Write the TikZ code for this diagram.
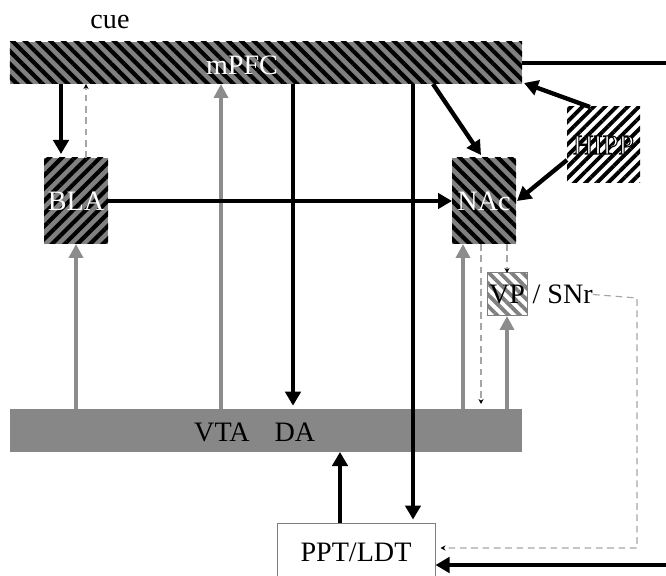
\documentclass[tikz,border=0pt]{standalone}
\usepackage{fontspec}
\setmainfont{Liberation Serif}
\usetikzlibrary{arrows.meta,patterns.meta}
\definecolor{stripegray}{gray}{0.5}
\definecolor{bargray}{gray}{0.53}
\definecolor{arrowgray}{gray}{0.55}
\definecolor{dashgray}{gray}{0.65}
\begin{document}
\begin{tikzpicture}[
			x=0.3mm, y=-0.3mm,
			font=\fontsize{24}{27}\selectfont,
			region/.style={inner sep=0pt, outer sep=0pt, text=white},
			darkhatch/.style={region, preaction={fill=stripegray}, pattern={Lines[angle=#1,distance=2.7mm,line width=1.25mm]}, pattern color=black},
			lighthatch/.style 2 args={region, preaction={fill=white}, pattern={Lines[angle=#1,distance=2.4mm,line width=1.15mm]}, pattern color=#2},
			bigarrow/.style={draw=black, line width=1.3mm, -{Triangle[length=4.2mm,width=4.6mm]}},
			grayarrow/.style={draw=arrowgray, line width=1.3mm, -{Triangle[length=4.2mm,width=4.2mm]}},
			thinarrow/.style={draw=dashgray, line width=0.35mm, dash pattern=on 2mm off 1.4mm, -{Stealth[length=1.5mm,width=1.5mm,black]}},
			thickline/.style={draw=black, line width=1.3mm}
			]
			
			\clip (0,0) rectangle (666,576);
			
			\node (cue) at (110,22) {cue};
			
			\node[darkhatch=-45, minimum width=153.6mm, minimum height=12.6mm] (mpfc) at (266,63) {};
			\node[text=white] (mpfclbl) at (242,65) {mPFC};
			
			\node[darkhatch=45, minimum width=19.2mm, minimum height=25.8mm] (bla) at (76,201) {BLA};
			\node[darkhatch=-45, minimum width=19.2mm, minimum height=25.8mm] (nac) at (484,201) {NAc};
			\node[lighthatch={45}{black}, minimum width=21.9mm, minimum height=22.8mm, text=white] (hipp) at (603.5,145) {\special{pdf:code 2 Tr 0.9 w 0 G}HIPP\special{pdf:code 0 Tr}};
			\node[lighthatch={-45}{stripegray}, draw=stripegray, line width=0.3mm, minimum width=12mm, minimum height=12.9mm, text=black] (vp) at (507,294.5) {VP};
			\node[anchor=west, inner sep=0pt, xshift=1.6mm] (snr) at (vp.east) {/ SNr};
			
			\node[region, fill=bargray, minimum width=153.6mm, minimum height=12.9mm] (vta) at (266,430.5) {};
			\node (vtalbl) at (222,432) {VTA};
			\node (dalbl) at (295,432) {DA};
			
			\node[draw=stripegray, line width=0.3mm, fill=white, minimum width=47.4mm, minimum height=17.4mm, inner sep=0pt] (ppt) at (356,552) {PPT/LDT};
			
			\coordinate (loopin) at (680,63);
			\coordinate (loopout) at (680,565);
			\coordinate (snrturn) at (637,298);
			
			\draw[bigarrow] (61,0 |- mpfc.south) -- ([yshift=1.2mm]61,0 |- bla.north);
			\draw[thinarrow] (86,0 |- bla.north) -- (86,0 |- mpfc.south);
			\draw[grayarrow] (221,0 |- vta.north) -- (221,0 |- mpfc.south);
			\draw[bigarrow] (293,0 |- mpfc.south) -- ([yshift=1mm]293,0 |- vta.north);
			\draw[bigarrow] (413,0 |- mpfc.south) -- ([yshift=0.9mm]413,0 |- ppt.north);
			\draw[bigarrow] (433,0 |- mpfc.south) -- ([yshift=0.9mm]481,0 |- nac.north);
			\draw[bigarrow] (590,0 |- hipp.north) -- ([shift={(0.6mm,0.3mm)}]mpfc.south east);
			\draw[bigarrow] (hipp.west |- 0,160) -- ([xshift=0.3mm]nac.east);
			\draw[bigarrow] (bla.east) -- (nac.west);
			
			\draw[grayarrow] (bla.south |- vta.north) -- (bla.south);
			\draw[grayarrow] (463,0 |- vta.north) -- (463,0 |- nac.south);
			\draw[grayarrow] (vp.south |- vta.north) -- (vp.south);
			\draw[thinarrow] (481,0 |- nac.south) -- ([yshift=1.5mm]481,0 |- vta.north);
			\draw[thinarrow] (507,0 |- nac.south) -- (vp.north);
			\draw[thinarrow] (snr.east) -- (snrturn) |- ([xshift=1.5mm]ppt.east |- 0,548);
			
			\draw[bigarrow] (340,0 |- ppt.north) -- (340,0 |- vta.south);
			\draw[thickline] (mpfc.east) -- (loopin);
			\draw[bigarrow] (loopout) -- (ppt.east |- loopout);
		\end{tikzpicture}
\end{document}
